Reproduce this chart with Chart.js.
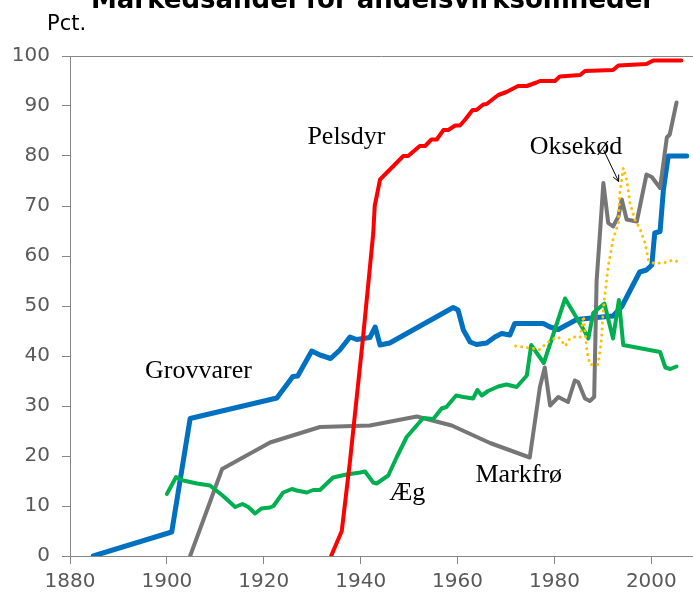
<!DOCTYPE html>
<html lang="da">
<head>
<meta charset="UTF-8">
<title>Markedsandel for andelsvirksomheder</title>
<script src="https://cdn.jsdelivr.net/npm/chart.js"></script>
<style>
  body { margin: 0; background: #fff; }
  #wrap { width: 693px; height: 595px; }
</style>
</head>
<body>
<div id="wrap"><canvas id="chart" width="693" height="595"></canvas></div>
<script>
// values (year, pct.)
const xTicks = [1880, 1900, 1920, 1940, 1960, 1980, 2000];

const grovYears = [1884.8, 1901, 1904.8, 1922.7, 1926, 1927, 1929.9, 1931.6, 1933.8, 1935.7, 1937.8, 1939.2, 1941.9, 1943, 1944, 1946, 1959.1, 1960.1, 1961.2, 1962.6, 1963.9, 1966, 1967.7, 1969.1, 1970.8, 1971.8, 1977.7, 1979.1, 1980.8, 1982.5, 1984.6, 1988.7, 1992.1, 1993.9, 1997.6, 1999, 2000.1, 2000.7, 2001.8, 2002.5, 2003.5, 2007.3];
const grovValues = [0, 4.8, 27.5, 31.6, 35.9, 36, 41, 40.2, 39.5, 41.2, 43.8, 43.3, 43.7, 45.8, 42.2, 42.6, 49.7, 49.2, 45.2, 42.8, 42.3, 42.6, 43.8, 44.5, 44.2, 46.5, 46.5, 45.8, 45.3, 46.2, 47.3, 47.7, 48, 49.9, 56.8, 57.2, 58.2, 64.6, 64.9, 73.3, 80, 80];

const pelsYears = [1933.9, 1936.1, 1937.8, 1940.5, 1942.6, 1942.9, 1944, 1948.8, 1949.8, 1952.2, 1953.3, 1954.6, 1955.7, 1957.1, 1958.1, 1959.5, 1960.5, 1961.5, 1963.1, 1963.9, 1965.3, 1966, 1968.4, 1970.1, 1972.5, 1974.3, 1976.3, 1977, 1980.1, 1981.1, 1985.3, 1986.3, 1992.1, 1993.2, 1999, 2000.4, 2006.2];
const pelsValues = [0, 5, 19, 43.8, 64.6, 70, 75.3, 80, 80, 82, 82, 83.3, 83.3, 85.2, 85.2, 86.1, 86.1, 87.2, 89.2, 89.2, 90.3, 90.4, 92.2, 92.8, 94, 94, 94.7, 95, 95, 95.9, 96.2, 97, 97.2, 98.1, 98.4, 99.1, 99.1];

const markYears = [1904.8, 1911.4, 1921.3, 1931.6, 1941.9, 1951.6, 1958.8, 1966.7, 1974.9, 1977, 1978, 1979.1, 1980.8, 1982.8, 1984.2, 1984.9, 1986.3, 1987.3, 1988.2, 1988.7, 1989.4, 1990.1, 1991.1, 1992.1, 1993.2, 1993.9, 1994.9, 1997, 1999, 2000.1, 2001.8, 2003.2, 2003.8, 2005.2];
const markValues = [0, 17.4, 22.7, 25.8, 26.1, 27.9, 26.1, 22.6, 19.7, 33.8, 37.7, 30.1, 31.8, 30.8, 35.1, 34.8, 31.5, 31, 31.8, 55, 64.6, 74.6, 66.6, 65.9, 67.9, 71.3, 67.3, 66.9, 76.3, 75.8, 73.6, 83.7, 84.3, 90.7];

const aegYears = [1900, 1901.9, 1903.4, 1906.2, 1908.9, 1911.6, 1914.1, 1915.6, 1916.8, 1918.2, 1919.5, 1921.3, 1922, 1924, 1925.8, 1926.8, 1928.9, 1930.2, 1931.6, 1934.3, 1937.1, 1939.9, 1940.9, 1942.6, 1943.3, 1945.7, 1947.4, 1949.5, 1952.9, 1955, 1956.7, 1957.7, 1959.7, 1961.2, 1963.2, 1964.1, 1965, 1966.3, 1968.4, 1970.1, 1972.2, 1974.3, 1975.2, 1977.8, 1982.2, 1986.3, 1987, 1988, 1990.3, 1992.1, 1993.3, 1994.2, 2001.8, 2002.9, 2003.9, 2005.2];
const aegValues = [12.4, 15.8, 15.1, 14.5, 14.1, 12, 9.8, 10.4, 9.8, 8.5, 9.5, 9.7, 10, 12.7, 13.4, 13.1, 12.7, 13.2, 13.2, 15.7, 16.3, 16.7, 16.9, 14.7, 14.5, 16.1, 19.7, 23.8, 27.6, 27.4, 29.5, 29.8, 32.1, 31.8, 31.5, 33.2, 32.1, 33, 33.9, 34.3, 33.8, 36.1, 42.2, 38.6, 51.5, 44.8, 43.5, 48.6, 50.5, 43.5, 51.2, 42.2, 40.8, 37.7, 37.4, 37.9];

const okseYears = [1972, 1974.3, 1977, 1978.4, 1979.4, 1980.8, 1982.3, 1982.9, 1984, 1985.3, 1986, 1986.7, 1987.3, 1989, 1989.7, 1990.1, 1991.1, 1992.1, 1993.2, 1993.5, 1994.2, 1994.9, 1995.6, 1996.6, 1997.7, 1998.7, 1999.4, 2000.4, 2002.5, 2004.5, 2006.2];
const okseValues = [42, 41.7, 41.3, 42.6, 43.2, 43.8, 42, 43.2, 43.8, 43.7, 48, 41, 38.3, 38.3, 43.2, 49.5, 57.9, 63.3, 66.6, 72.6, 77.6, 75.3, 70.6, 67.3, 65.3, 62.6, 59.2, 58.6, 58.6, 59.2, 58.6];

// series names and where their labels sit (year, pct.)
const seriesLabels = [
  { text: 'Grovvarer', x: 1895.5, y: 35.7 },
  { text: 'Pelsdyr', x: 1929.0, y: 82.4 },
  { text: 'Oksekød', x: 1974.9, y: 80.4 },
  { text: 'Markfrø', x: 1963.7, y: 14.8 },
  { text: 'Æg', x: 1945.9, y: 11.2 }
];

function pts(xs, ys) {
  return xs.map((x, i) => ({ x: x, y: ys[i] }));
}

const axisColor = '#868686';
const tickColor = '#595959';

const textPlugin = {
  id: 'texts',
  afterDatasetsDraw(chart) {
    const ctx = chart.ctx;
    const xs = chart.scales.x, ys = chart.scales.y;
    const area = chart.chartArea;
    ctx.save();
    // top frame line
    ctx.strokeStyle = axisColor;
    ctx.lineWidth = 1;
    ctx.beginPath();
    ctx.moveTo(area.left, Math.round(area.top) + 0.5);
    ctx.lineTo(area.right, Math.round(area.top) + 0.5);
    ctx.stroke();

    // title (cut off at the top) and unit
    ctx.fillStyle = '#000';
    ctx.textBaseline = 'alphabetic';
    ctx.textAlign = 'center';
    ctx.font = 'bold 26px "DejaVu Sans"';
    ctx.fillText('Markedsandel for andelsvirksomheder', 373, 8);
    ctx.textAlign = 'left';
    ctx.font = '21px "DejaVu Sans"';
    ctx.fillText('Pct.', 47, 30);

    // series labels
    ctx.font = '26px "Liberation Serif"';
    seriesLabels.forEach(l => {
      ctx.fillText(l.text, xs.getPixelForValue(l.x), ys.getPixelForValue(l.y));
    });

    // arrow Oksekød
    const x1 = xs.getPixelForValue(1990.15), y1 = ys.getPixelForValue(81.2);
    const x2 = xs.getPixelForValue(1993.25), y2 = ys.getPixelForValue(74.9);
    ctx.strokeStyle = '#000';
    ctx.lineWidth = 1;
    ctx.beginPath();
    ctx.moveTo(x1, y1);
    ctx.lineTo(x2, y2);
    ctx.stroke();
    const a = Math.atan2(y2 - y1, x2 - x1);
    ctx.beginPath();
    ctx.moveTo(x2 - 7 * Math.cos(a - 0.45), y2 - 7 * Math.sin(a - 0.45));
    ctx.lineTo(x2, y2);
    ctx.lineTo(x2 - 7 * Math.cos(a + 0.45), y2 - 7 * Math.sin(a + 0.45));
    ctx.stroke();
    ctx.restore();
  }
};

function line(label, data, color, width, order) {
  return {
    label: label,
    data: data,
    borderColor: color,
    backgroundColor: color,
    borderWidth: width,
    pointRadius: 0,
    tension: 0,
    fill: false,
    borderJoinStyle: 'round',
    borderCapStyle: 'round',
    order: order
  };
}

const okse = line('Oksekød', pts(okseYears, okseValues), '#FFC000', 3, 0);
okse.borderDash = [0.01, 6];

new Chart(document.getElementById('chart'), {
  type: 'line',
  data: {
    datasets: [
      okse,
      line('Pelsdyr', pts(pelsYears, pelsValues), '#FF0000', 4, 1),
      line('Æg', pts(aegYears, aegValues), '#00B050', 4, 2),
      line('Markfrø', pts(markYears, markValues), '#767676', 4, 3),
      line('Grovvarer', pts(grovYears, grovValues), '#0070C0', 5, 4)
    ]
  },
  options: {
    responsive: false,
    animation: false,
    devicePixelRatio: 1,
    layout: { padding: { top: 56, left: 0, right: 0, bottom: 0 } },
    plugins: {
      legend: { display: false },
      title: { display: false },
      tooltip: { enabled: false }
    },
    scales: {
      x: {
        type: 'linear',
        min: 1880,
        max: 2008.6,
        afterBuildTicks: s => { s.ticks = xTicks.map(v => ({ value: v })); },
        afterFit: s => { s.height = 39; },
        grid: { drawOnChartArea: false, drawTicks: true, tickLength: 8, color: axisColor },
        border: { display: true, color: axisColor },
        ticks: {
          color: tickColor,
          padding: 6,
          maxRotation: 0,
          font: { family: 'DejaVu Sans', size: 20 },
          callback: v => String(v)
        }
      },
      y: {
        min: 0,
        max: 100,
        afterFit: s => { s.width = 70; },
        grid: { drawOnChartArea: false, drawTicks: true, tickLength: 8, color: axisColor },
        border: { display: true, color: axisColor },
        ticks: {
          stepSize: 10,
          color: tickColor,
          padding: 12,
          font: { family: 'DejaVu Sans', size: 20 }
        }
      }
    }
  },
  plugins: [textPlugin]
});
</script>
</body>
</html>
